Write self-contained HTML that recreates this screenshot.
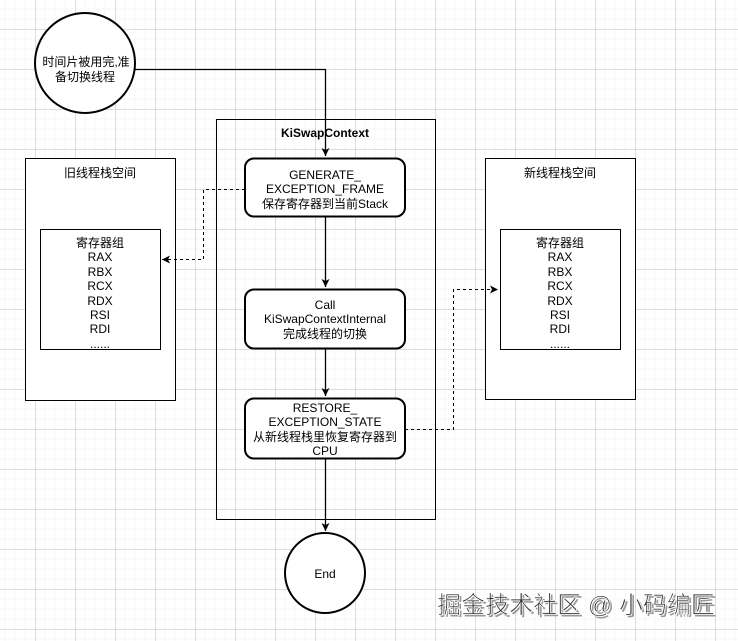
<!DOCTYPE html>
<html><head><meta charset="utf-8"><style>
html,body{margin:0;padding:0;background:#fff;}
svg{display:block;}
text{font-family:"Liberation Sans","Noto Sans CJK SC",sans-serif;font-size:12px;fill:#000;text-anchor:middle;}
</style></head><body>
<svg width="738" height="641" viewBox="0 0 738 641" xmlns="http://www.w3.org/2000/svg">
<defs>
<pattern id="g" x="35" y="29" width="40" height="40" patternUnits="userSpaceOnUse">
<path d="M10 0V40M20 0V40M30 0V40M0 10H40M0 20H40M0 30H40" stroke="#f7f7f7" stroke-width="1"/>
<path d="M0.5 0V40M0 0.5H40" stroke="#dcdcdc" stroke-width="1"/>
</pattern>
<marker id="a" markerWidth="10" markerHeight="10" refX="8" refY="5" orient="auto" markerUnits="userSpaceOnUse">
<path d="M0 1L8 5L0 9L2 5Z" fill="#000"/>
</marker>
</defs>
<rect width="738" height="641" fill="url(#g)"/>

<circle cx="85" cy="63" r="50" fill="#fff" stroke="#000" stroke-width="2"/>
<text x="86" y="66">时间片被用完,准</text>
<text x="85" y="81">备切换线程</text>
<path d="M135 69.5H325.5V156" fill="none" stroke="#000" stroke-width="1.3" marker-end="url(#a)"/>

<rect x="216.5" y="119.5" width="219" height="400" fill="none" stroke="#000"/>
<text x="325" y="137" style="font-weight:bold">KiSwapContext</text>

<rect x="25.5" y="158.5" width="150" height="242" fill="#fff" stroke="#000"/>
<text x="100" y="177">旧线程栈空间</text>
<rect x="40.5" y="229.5" width="120" height="120" fill="#fff" stroke="#000"/>
<g><text x="100" y="247">寄存器组</text><text x="100" y="261">RAX</text><text x="100" y="276">RBX</text><text x="100" y="290">RCX</text><text x="100" y="305">RDX</text><text x="100" y="319">RSI</text><text x="100" y="333">RDI</text><text x="100" y="348">......</text></g>

<rect x="485.5" y="158.5" width="150" height="241" fill="#fff" stroke="#000"/>
<text x="560" y="177">新线程栈空间</text>
<rect x="500.5" y="229.5" width="120" height="120" fill="#fff" stroke="#000"/>
<g><text x="560" y="247">寄存器组</text><text x="560" y="261">RAX</text><text x="560" y="276">RBX</text><text x="560" y="290">RCX</text><text x="560" y="305">RDX</text><text x="560" y="319">RSI</text><text x="560" y="333">RDI</text><text x="560" y="348">......</text></g>

<rect x="245" y="158.5" width="160" height="58" rx="9" fill="#fff" stroke="#000" stroke-width="2"/>
<text x="325" y="179">GENERATE_</text>
<text x="325" y="193">EXCEPTION_FRAME</text>
<text x="325" y="208">保存寄存器到当前Stack</text>

<rect x="245" y="289.5" width="160" height="59" rx="9" fill="#fff" stroke="#000" stroke-width="2"/>
<text x="325" y="309">Call</text>
<text x="325" y="323">KiSwapContextInternal</text>
<text x="325" y="338">完成线程的切换</text>

<rect x="245" y="398.5" width="160" height="60" rx="9" fill="#fff" stroke="#000" stroke-width="2"/>
<text x="325" y="412">RESTORE_</text>
<text x="325" y="426">EXCEPTION_STATE</text>
<text x="325" y="441">从新线程栈里恢复寄存器到</text>
<text x="325" y="455">CPU</text>

<path d="M325.5 217V287" stroke="#000" stroke-width="1.3" marker-end="url(#a)"/>
<path d="M325.5 349V396" stroke="#000" stroke-width="1.3" marker-end="url(#a)"/>
<path d="M325.5 459V531" stroke="#000" stroke-width="1.3" marker-end="url(#a)"/>

<path d="M245 189.5H203.5V259.5H162" fill="none" stroke="#000" stroke-dasharray="3,3" marker-end="url(#a)"/>
<path d="M405 429.5H453.5V289.5H498" fill="none" stroke="#000" stroke-dasharray="3,3" marker-end="url(#a)"/>

<circle cx="325" cy="573" r="40" fill="#fff" stroke="#000" stroke-width="2"/>
<text x="325" y="578">End</text>

<text x="577" y="614" style="font-size:24px;fill:#999;text-anchor:middle" transform="translate(1,1)">掘金技术社区 @ 小码编匠</text>
<text x="576" y="613" style="font-size:24px;fill:#333;stroke:#fff;stroke-width:0.8px;text-anchor:middle">掘金技术社区 @ 小码编匠</text>
</svg>
</body></html>
